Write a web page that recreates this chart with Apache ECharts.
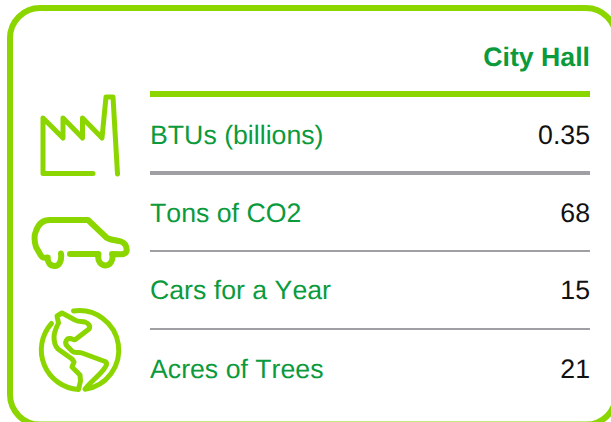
<!DOCTYPE html>
<html>
<head>
<meta charset="utf-8">
<style>
    html, body { margin: 0; padding: 0; background: #fff; }
    #chart { width: 611px; height: 422px; overflow: hidden; }
    /* 原图文字没有字距调整 */
    #chart text { font-kerning: none !important; text-rendering: geometricPrecision !important; }
</style>
<script src="https://cdn.jsdelivr.net/npm/echarts@6/dist/echarts.min.js"></script>
</head>
<body>
<div id="chart"></div>
<script>
var columnTitle = 'City Hall';
var rowLabels = ['BTUs (billions)', 'Tons of CO2', 'Cars for a Year', 'Acres of Trees'];
var rowValues = ['0.35', '68', '15', '21'];

var LIME = '#8cd600';
var GREEN = '#0b9a3c';
var GREY = '#a09fa4';
var FONT = '"Liberation Sans", Arial, sans-serif';

var left = 150, right = 590;
var rowY = [135, 213, 290, 369];

// 图标路径
var iconPaths = [
    'M93 173.5 L43 173.5 L43 118 L63 138 L63 118 L82.5 138 L82.5 118 L102 138 L106 97 L113 97 L117.5 174',
    'M61 253.5 C62 261 59 266 55 266 C50 266 47.5 263 47.7 257.5 C44 258.5 42 258 40 254 L36 247 C34 240 34.5 234 36 231 C38 225 42 220 50 220 L88 220 L106.7 237.7 C110 240 116 240 121 241.5 C125 243 126.7 246 126.7 250 C126.7 253 124 254.3 121 254.3 L112 254 C114 260 110 265.5 105.5 265.5 C101 265.5 97 261 98.5 254 L70 254',
    'M73.5 311 A39.5 39.5 0 1 1 85 389.2 C89 383 98 377 104 369 C107 365 107.5 363 105 361.5 L82 353 C78 351.5 75 354 72 351 L67 346 C64 342 67 338 70 338.5 C73 339 74 341 76 339 L89 329 C91 326 88 323 85 322 C81 321 78 322 75 320 L62 313 L57 316 L58.5 323 C56 328 54 332 54 337 C54 343 55 346 58 349 L72 359 L74 362 L72 367 L80 375 L80.5 381 L78.5 389.4 A39.5 39.5 0 0 1 51.5 323.5'
];
var iconStrokes = [5, 6, 5];

function textItem(x, y, text, align, color, weight) {
    return {
        type: 'text',
        x: x,
        y: y,
        style: {
            text: text,
            fill: color,
            font: (weight || 'normal') + ' 26.7px ' + FONT,
            align: align,
            verticalAlign: 'middle'
        }
    };
}

function ruleItem(y, height, color) {
    return { type: 'rect', shape: { x: left, y: y, width: right - left, height: height }, style: { fill: color } };
}

var items = [
    {
        type: 'rect',
        shape: { x: 10, y: 8, width: 606, height: 416.6, r: 30 },
        style: { fill: '#fff', stroke: LIME, lineWidth: 6 }
    },
    textItem(right, 57, columnTitle, 'right', GREEN, 'bold'),
    ruleItem(91, 6, LIME),
    ruleItem(171, 4, GREY),
    ruleItem(250, 2, GREY),
    ruleItem(328, 2, GREY)
];

rowLabels.forEach(function (label, i) {
    items.push(textItem(left, rowY[i], label, 'left', GREEN));
    items.push(textItem(right, rowY[i], rowValues[i], 'right', '#111'));
});

var chart = echarts.init(document.getElementById('chart'), null, { renderer: 'svg' });
chart.setOption({
    animation: false,
    backgroundColor: '#fff',
    graphic: { elements: items },
    series: [{
        type: 'custom',
        coordinateSystem: 'none',
        data: iconPaths.map(function (p, i) { return i; }),
        z: 10,
        silent: true,
        renderItem: function (params) {
            return {
                type: 'path',
                shape: { pathData: iconPaths[params.dataIndex] },
                style: { fill: 'none', stroke: LIME, lineWidth: iconStrokes[params.dataIndex], lineCap: 'round', lineJoin: 'round' }
            };
        }
    }]
});
</script>
</body>
</html>
